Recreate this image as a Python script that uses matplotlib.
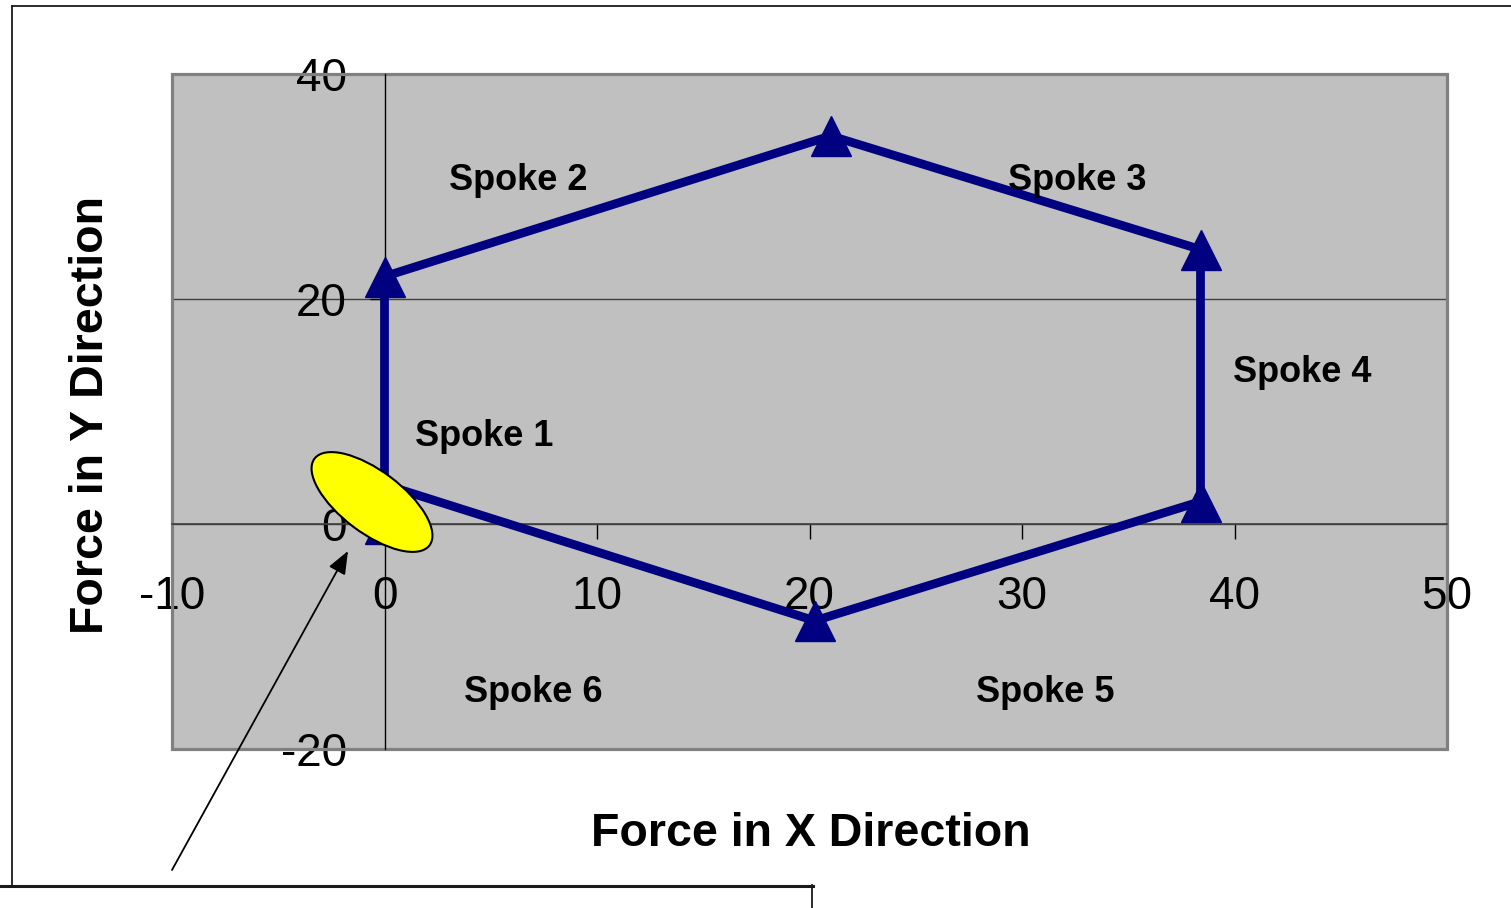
import matplotlib
matplotlib.use('Agg')
import matplotlib.pyplot as plt
from matplotlib.patches import Ellipse, Rectangle, FancyArrowPatch
from matplotlib.lines import Line2D
from matplotlib.transforms import IdentityTransform

plt.rcParams['font.family'] = ['Liberation Sans', 'DejaVu Sans']
plt.rcParams['axes.unicode_minus'] = False

# data
force_x = [0, 0, 21, 38.4, 38.4, 20.25, 0]
force_y = [0, 22, 34.5, 24.4, 2, -8.6, 3.5]
spoke_labels = ['Spoke 1', 'Spoke 2', 'Spoke 3', 'Spoke 4', 'Spoke 5', 'Spoke 6']
label_x = [4.7, 6.3, 32.6, 43.2, 31.1, 7.0]
label_y = [7.8, 30.5, 30.5, 13.5, -15.0, -15.0]
x_ticks = [-10, 0, 10, 20, 30, 40, 50]
y_ticks = [-20, 0, 20, 40]

W, H = 1511, 908
fig = plt.figure(figsize=(W / 100, H / 100), dpi=100)
ax = fig.add_axes([172 / W, 1 - 749 / H, (1447 - 172) / W, (749 - 74) / H])
ax.set_facecolor('#C0C0C0')
ax.set_xlim(-10, 50)
ax.set_ylim(-20, 40)
ax.set_xticks(x_ticks)
ax.set_yticks(y_ticks)

ax.spines['left'].set_position(('data', 0))
ax.spines['bottom'].set_position(('data', 0))
ax.spines['top'].set_visible(False)
ax.spines['right'].set_visible(False)
ax.spines['left'].set_color('black')
ax.spines['left'].set_linewidth(1.0)
ax.spines['bottom'].set_color('#404040')
ax.spines['bottom'].set_linewidth(1.2)

ax.set_axisbelow(True)
ax.yaxis.grid(True, color='#404040', lw=1.0)

border = Rectangle((0, 0), 1, 1, transform=ax.transAxes, fill=False,
                   edgecolor='#808080', lw=2.3, clip_on=False, zorder=1)
ax.add_patch(border)

ax.tick_params(axis='x', direction='out', length=10.5, width=1, pad=26.5,
               labelsize=33, color='black')
ax.tick_params(axis='y', direction='out', length=10.5, width=1, pad=16.5,
               labelsize=33, color='black')

ax.plot(force_x, force_y, color='#000080', lw=6.3, marker='^', ms=29,
        markevery=[0, 1, 2, 3, 4, 5], solid_joinstyle='miter', zorder=3,
        clip_on=False)

for s, x, y in zip(spoke_labels, label_x, label_y):
    ax.text(x, y, s, ha='center', va='center', fontsize=26, fontweight='bold',
            zorder=4)

ax.set_xlabel('Force in X Direction', fontsize=33.5, fontweight='bold', va='center')
ax.xaxis.set_label_coords(0.501, (749 - 834) / 675)
ax.set_ylabel('Force in Y Direction', fontsize=33.5, fontweight='bold', va='center')
ax.yaxis.set_label_coords((91 - 172) / 1275, (749 - 415) / 675)

# highlighted origin and callout arrow
ell = Ellipse((372, H - 502), width=144, height=62, angle=-37,
              transform=IdentityTransform(), facecolor='#FFFF00',
              edgecolor='black', lw=1.5, zorder=5)
fig.add_artist(ell)
arrow = FancyArrowPatch(posA=(172, H - 870), posB=(348, H - 551),
                        transform=IdentityTransform(),
                        arrowstyle='-|>,head_length=0.7,head_width=0.28',
                        mutation_scale=20, color='black', lw=1.3,
                        shrinkA=0, shrinkB=0, zorder=6)
fig.add_artist(arrow)

# page frame lines
frame_kw = dict(transform=fig.transFigure, color='#1a1a1a')
fig.add_artist(Line2D([12 / W, 1], [1 - 5.5 / H, 1 - 5.5 / H], lw=1.3, **frame_kw))
fig.add_artist(Line2D([12 / W, 12 / W], [1 - 5.5 / H, 1 - 885 / H], lw=1.3, **frame_kw))
fig.add_artist(Line2D([0, 813 / W], [1 - 885.5 / H, 1 - 885.5 / H], lw=2.2, **frame_kw))
fig.add_artist(Line2D([812 / W, 812 / W], [1 - 885 / H, 0], lw=1.3, **frame_kw))

fig.savefig('out.png', dpi=100)
